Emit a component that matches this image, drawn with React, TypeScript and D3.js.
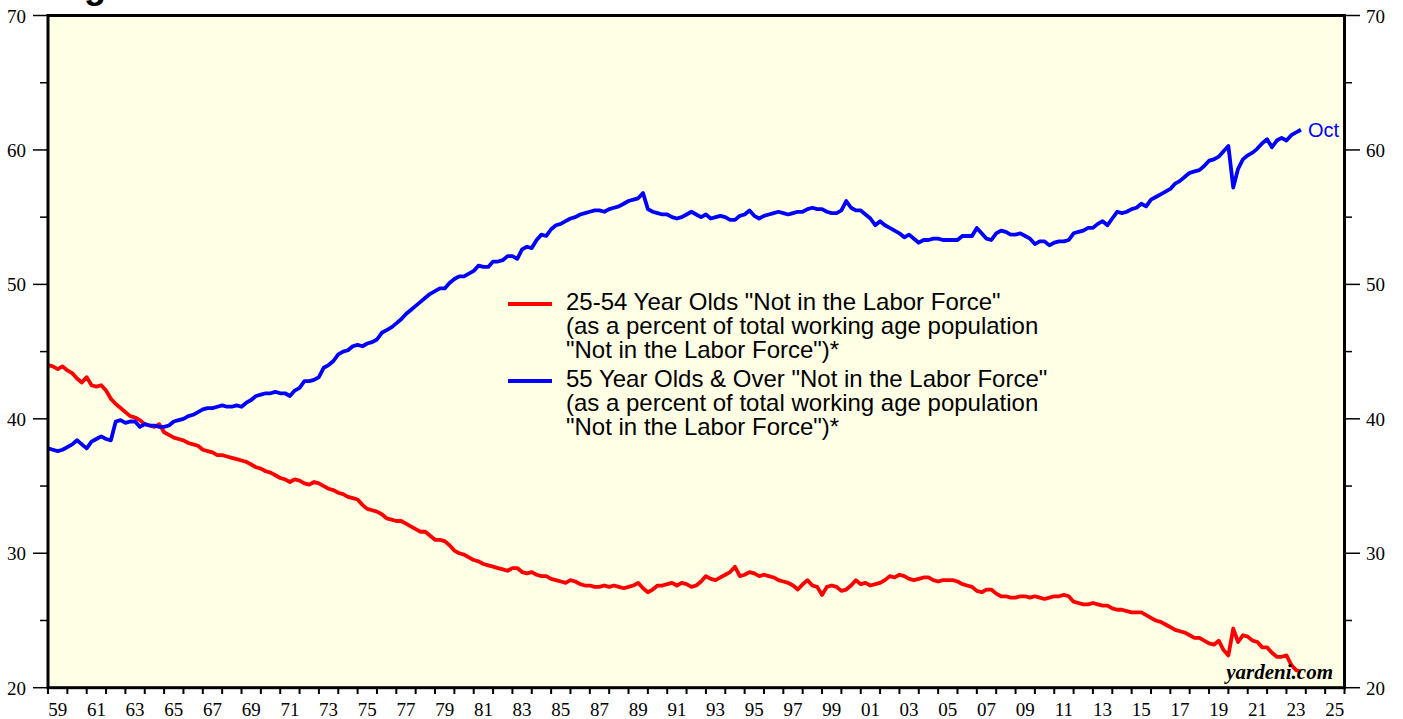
import React from 'react';
import * as d3 from 'd3';

// quarterly observations, first one is 1959 Q1, last one is Oct 2023
const startYear = 1959;
const step = 0.25;

const prime = [
  44.0, 43.9, 43.7, 43.9, 43.6, 43.4, 43.0, 42.7, 43.1, 42.5, 42.4, 42.5, // 59-61
  42.1, 41.5, 41.1, 40.8, 40.5, 40.2, 40.1, 39.9, 39.6, 39.5, 39.4, 39.6, // 62-64
  39.0, 38.8, 38.6, 38.5, 38.4, 38.2, 38.1, 38.0, 37.7, 37.6, 37.5, 37.3, // 65-67
  37.3, 37.2, 37.1, 37.0, 36.9, 36.8, 36.6, 36.4, 36.3, 36.1, 36.0, 35.8, // 68-70
  35.6, 35.5, 35.3, 35.5, 35.4, 35.2, 35.1, 35.3, 35.2, 35.0, 34.8, 34.7, // 71-73
  34.5, 34.4, 34.2, 34.1, 34.0, 33.6, 33.3, 33.2, 33.1, 32.9, 32.6, 32.5, // 74-76
  32.4, 32.4, 32.2, 32.0, 31.8, 31.6, 31.6, 31.3, 31.0, 31.0, 30.9, 30.6, // 77-79
  30.2, 30.0, 29.9, 29.7, 29.5, 29.4, 29.2, 29.1, 29.0, 28.9, 28.8, 28.7, // 80-82
  28.9, 28.9, 28.6, 28.5, 28.6, 28.4, 28.3, 28.3, 28.1, 28.0, 27.9, 27.8, // 83-85
  28.0, 27.9, 27.7, 27.6, 27.6, 27.5, 27.5, 27.6, 27.5, 27.6, 27.5, 27.4, // 86-88
  27.5, 27.6, 27.8, 27.4, 27.1, 27.3, 27.6, 27.6, 27.7, 27.8, 27.6, 27.8, // 89-91
  27.7, 27.5, 27.6, 27.9, 28.3, 28.1, 28.0, 28.2, 28.4, 28.6, 29.0, 28.3, // 92-94
  28.4, 28.6, 28.5, 28.3, 28.4, 28.3, 28.2, 28.0, 27.9, 27.8, 27.6, 27.3, // 95-97
  27.7, 28.0, 27.6, 27.5, 26.9, 27.5, 27.6, 27.5, 27.2, 27.3, 27.6, 28.0, // 98-00
  27.7, 27.8, 27.6, 27.7, 27.8, 28.0, 28.3, 28.2, 28.4, 28.3, 28.1, 28.0, // 01-03
  28.1, 28.2, 28.2, 28.0, 27.9, 28.0, 28.0, 28.0, 27.9, 27.7, 27.6, 27.5, // 04-06
  27.2, 27.1, 27.3, 27.3, 27.0, 26.8, 26.8, 26.7, 26.7, 26.8, 26.8, 26.7, // 07-09
  26.8, 26.7, 26.6, 26.7, 26.8, 26.8, 26.9, 26.8, 26.4, 26.3, 26.2, 26.2, // 10-12
  26.3, 26.2, 26.1, 26.1, 25.9, 25.8, 25.8, 25.7, 25.6, 25.6, 25.6, 25.4, // 13-15
  25.2, 25.0, 24.9, 24.7, 24.5, 24.3, 24.2, 24.1, 23.9, 23.7, 23.7, 23.5, // 16-18
  23.3, 23.2, 23.5, 22.8, 22.4, 24.4, 23.4, 23.9, 23.8, 23.5, 23.4, 23.0, // 19-21
  23.0, 22.6, 22.3, 22.3, 22.4, 21.7, 21.3, 21.2, // 22-23
];

const older = [
  37.8, 37.7, 37.6, 37.7, 37.9, 38.1, 38.4, 38.1, 37.8, 38.3, 38.5, 38.7, // 59-61
  38.5, 38.4, 39.8, 39.9, 39.7, 39.8, 39.8, 39.4, 39.6, 39.5, 39.5, 39.4, // 62-64
  39.4, 39.5, 39.8, 39.9, 40.0, 40.2, 40.3, 40.5, 40.7, 40.8, 40.8, 40.9, // 65-67
  41.0, 40.9, 40.9, 41.0, 40.9, 41.2, 41.4, 41.7, 41.8, 41.9, 41.9, 42.0, // 68-70
  41.9, 41.9, 41.7, 42.1, 42.3, 42.8, 42.8, 42.9, 43.1, 43.8, 44.0, 44.3, // 71-73
  44.8, 45.0, 45.1, 45.4, 45.5, 45.4, 45.6, 45.7, 45.9, 46.4, 46.6, 46.8, // 74-76
  47.1, 47.4, 47.8, 48.1, 48.4, 48.7, 49.0, 49.3, 49.5, 49.7, 49.7, 50.1, // 77-79
  50.4, 50.6, 50.6, 50.8, 51.0, 51.4, 51.3, 51.3, 51.7, 51.7, 51.8, 52.1, // 80-82
  52.1, 51.9, 52.6, 52.8, 52.7, 53.3, 53.7, 53.6, 54.1, 54.4, 54.5, 54.7, // 83-85
  54.9, 55.0, 55.2, 55.3, 55.4, 55.5, 55.5, 55.4, 55.6, 55.7, 55.8, 56.0, // 86-88
  56.2, 56.3, 56.4, 56.8, 55.6, 55.4, 55.3, 55.2, 55.2, 55.0, 54.9, 55.0, // 89-91
  55.2, 55.4, 55.2, 55.0, 55.2, 54.9, 55.0, 55.1, 55.0, 54.8, 54.8, 55.1, // 92-94
  55.2, 55.5, 55.1, 54.9, 55.1, 55.2, 55.3, 55.4, 55.3, 55.2, 55.3, 55.4, // 95-97
  55.4, 55.6, 55.7, 55.6, 55.6, 55.4, 55.3, 55.3, 55.5, 56.2, 55.7, 55.5, // 98-00
  55.5, 55.2, 54.9, 54.4, 54.7, 54.4, 54.2, 54.0, 53.8, 53.5, 53.7, 53.4, // 01-03
  53.1, 53.3, 53.3, 53.4, 53.4, 53.3, 53.3, 53.3, 53.3, 53.6, 53.6, 53.6, // 04-06
  54.2, 53.8, 53.4, 53.3, 53.8, 54.0, 53.9, 53.7, 53.7, 53.8, 53.6, 53.4, // 07-09
  53.0, 53.2, 53.2, 52.9, 53.1, 53.2, 53.2, 53.3, 53.8, 53.9, 54.0, 54.2, // 10-12
  54.2, 54.5, 54.7, 54.4, 54.9, 55.4, 55.3, 55.4, 55.6, 55.7, 56.0, 55.8, // 13-15
  56.3, 56.5, 56.7, 56.9, 57.1, 57.5, 57.7, 58.0, 58.3, 58.4, 58.5, 58.8, // 16-18
  59.2, 59.3, 59.5, 59.9, 60.3, 57.2, 58.6, 59.3, 59.6, 59.8, 60.1, 60.5, // 19-21
  60.8, 60.2, 60.7, 60.9, 60.7, 61.1, 61.3, 61.5, // 22-23
];

const yTicks = [20, 30, 40, 50, 60, 70];
const yMinor = [25, 35, 45, 55, 65];
const years = d3.range(1959, 2027);
const yearLabels = d3.range(1959, 2027, 2);

const legendItems = [
  {
    color: '#ff0000',
    lines: [
      '25-54 Year Olds "Not in the Labor Force"',
      '(as a percent of total working age population',
      '"Not in the Labor Force")*',
    ],
  },
  {
    color: '#0000ff',
    lines: [
      '55 Year Olds & Over "Not in the Labor Force"',
      '(as a percent of total working age population',
      '"Not in the Labor Force")*',
    ],
  },
];

const W = 1403;
const H = 719;
const left = 48, right = 1344.5, top = 15.5, bottom = 687.7;

const serif = '"Liberation Serif", "Times New Roman", serif';
const sans = '"Liberation Sans", Arial, sans-serif';

export default function App() {
  const x = d3.scaleLinear().domain([1959, 2026]).range([left, right]);
  const y = d3.scaleLinear().domain([20, 70]).range([bottom, top]);

  const line = d3
    .line<number>()
    .x((d, i) => x(startYear + i * step))
    .y(d => y(d));

  const lastT = startYear + (older.length - 1) * step;

  return (
    <svg
      width={W}
      height={H}
      style={{ position: 'absolute', left: 0, top: 0, background: '#fff' }}
    >
      {/* title, mostly cropped away in the source */}
      <text x={52} y={-2} fontFamily={sans} fontWeight="bold" fontSize={36}>
        Figure
      </text>

      <rect x={left} y={top} width={right - left} height={bottom - top} fill="#ffffe6" />

      <g clipPath="url(#plot)">
        <clipPath id="plot">
          <rect x={left} y={top} width={right - left} height={bottom - top} />
        </clipPath>
        <path d={line(prime) || ''} fill="none" stroke="#ff0000" strokeWidth={3.8} strokeLinejoin="round" />
        <path d={line(older) || ''} fill="none" stroke="#0000ff" strokeWidth={3.8} strokeLinejoin="round" />
      </g>

      <text x={x(lastT) + 7} y={y(older[older.length - 1]) + 7} fill="#0000ff" fontFamily={sans} fontSize={20}>
        Oct
      </text>

      {/* legend */}
      <g fontFamily={sans} fontSize={24} fill="#000">
        {legendItems.map((item, i) => {
          const y0 = 304 + i * 77;
          return (
            <g key={i}>
              <line x1={508} x2={552} y1={y0} y2={y0} stroke={item.color} strokeWidth={3.8} />
              {item.lines.map((t, j) => (
                <text key={j} x={566} y={y0 + 6 + j * 24}>
                  {t}
                </text>
              ))}
            </g>
          );
        })}
      </g>

      <text
        x={1333}
        y={679}
        textAnchor="end"
        fontFamily={serif}
        fontStyle="italic"
        fontWeight="bold"
        fontSize={21}
      >
        yardeni.com
      </text>

      {/* frame */}
      <rect x={left} y={top} width={right - left} height={bottom - top} fill="none" stroke="#000" strokeWidth={3} />

      {/* y axes */}
      <g fontFamily={serif} fontSize={19}>
        {yTicks.map(t => (
          <g key={t}>
            <line x1={33} x2={left} y1={y(t)} y2={y(t)} stroke="#000" strokeWidth={1.5} />
            <line x1={right} x2={1360} y1={y(t)} y2={y(t)} stroke="#000" strokeWidth={1.5} />
            <text x={26} y={y(t) + 7} textAnchor="end">{t}</text>
            <text x={1366} y={y(t) + 7}>{t}</text>
          </g>
        ))}
        {yMinor.map(t => (
          <g key={t}>
            <line x1={40} x2={left} y1={y(t)} y2={y(t)} stroke="#000" strokeWidth={1.5} />
            <line x1={right} x2={1352} y1={y(t)} y2={y(t)} stroke="#000" strokeWidth={1.5} />
          </g>
        ))}
      </g>

      {/* x axis */}
      <g fontFamily={serif} fontSize={19}>
        {years.map(yr => (
          <line key={yr} x1={x(yr)} x2={x(yr)} y1={bottom} y2={694} stroke="#000" strokeWidth={2} />
        ))}
        {yearLabels.map(yr => (
          <text key={yr} x={x(yr + 0.5)} y={716} textAnchor="middle">
            {String(yr % 100).padStart(2, '0')}
          </text>
        ))}
      </g>
    </svg>
  );
}
